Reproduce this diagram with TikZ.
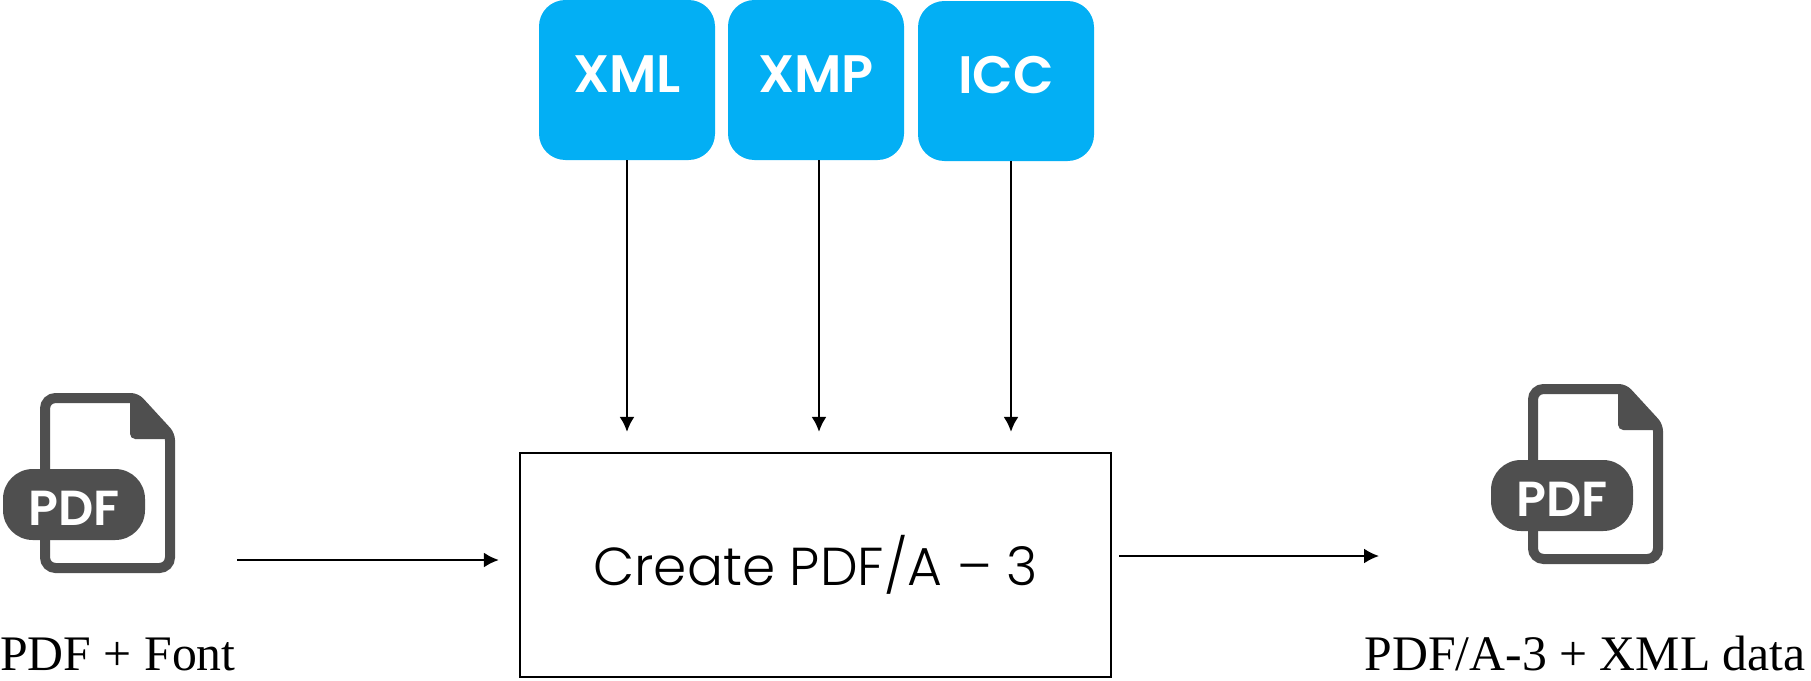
\documentclass[tikz,border=0pt]{standalone}
\usepackage{fontspec}
\setmainfont{Liberation Serif}
\newfontfamily\gothic{Poppins Light}
\newfontfamily\gothicbold{Poppins SemiBold}
\usetikzlibrary{arrows.meta}
\definecolor{tagblue}{RGB}{3,175,244}
\definecolor{icongray}{RGB}{79,79,79}
\tikzset{
    tag/.style={fill=tagblue, rounded corners=15pt, minimum width=176*0.02cm, minimum height=160*0.02cm, inner sep=0pt},
    tagtext/.style={text=white, inner sep=0pt, font=\gothicbold\fontsize{30}{36}\selectfont},
    caption/.style={inner sep=0pt, font=\fontsize{28.3}{34}\selectfont},
    pdficon/.pic={
        \draw[icongray, fill=white, line width=10*0.02cm, rounded corners=6pt] (45,398)[rounded corners=3pt]--(136,398)--(170,435)[rounded corners=6pt]--(170,568)--(45,568)--cycle;
        \fill[icongray, rounded corners=3pt] (130,396)--(137,396)--(172,434)--(172,439)--(130,439)--cycle;
        \node[fill=icongray, rounded corners=17pt, minimum width=142*0.02cm, minimum height=71*0.02cm, inner sep=0pt] (-badge) at (74,504.5) {};
        \node[text=white, inner sep=0pt, font=\gothicbold\fontsize{28}{34}\selectfont] (-badgetext) at (74,508) {PDF};
    }
}
\begin{document}
\begin{tikzpicture}[>={Latex[length=8.5pt,width=8.5pt]}, x=0.02cm, y=-0.02cm]
\useasboundingbox (0,0) rectangle (1811,680);

\node[tag] (xml) at (627,80) {};
\node[tag] (xmp) at (816,80) {};
\node[tag] (icc) at (1006,81) {};
\node[tagtext] (xmltext) at (627,74) {XML};
\node[tagtext] (xmptext) at (816,74) {XMP};
\node[tagtext] (icctext) at (1006,75) {ICC};

\node[draw, line width=1.3pt, minimum width=591*0.02cm, minimum height=224*0.02cm, inner sep=0pt, font=\gothic\fontsize{30.4}{36}\selectfont] (create) at (815.5,565) {Create PDF/A – 3};

\pic (src) at (0,0) {pdficon};
\pic (dst) at (1488,-9) {pdficon};

\node[caption, anchor=base west] (srclabel) at (0,670) {PDF + Font};
\node[caption, anchor=base east] (dstlabel) at (1806,670) {PDF/A-3 + XML data};

\coordinate (srcend) at (237,560);
\coordinate (dstend) at (1379,556);

\draw[->, line width=1.2pt, shorten >=20*0.02cm] (xml.south)--(xml.south |- create.north);
\draw[->, line width=1.2pt, shorten >=20*0.02cm] ([xshift=3*0.02cm]xmp.south)--([xshift=3*0.02cm]xmp.south |- create.north);
\draw[->, line width=1.2pt, shorten >=20*0.02cm] ([xshift=5*0.02cm]icc.south)--([xshift=5*0.02cm]icc.south |- create.north);

\draw[->, line width=1.2pt, shorten >=20*0.02cm] (srcend)--(srcend -| create.west);
\draw[->, line width=1.2pt, shorten <=7*0.02cm] (create.east |- dstend)--(dstend);

\end{tikzpicture}
\end{document}
